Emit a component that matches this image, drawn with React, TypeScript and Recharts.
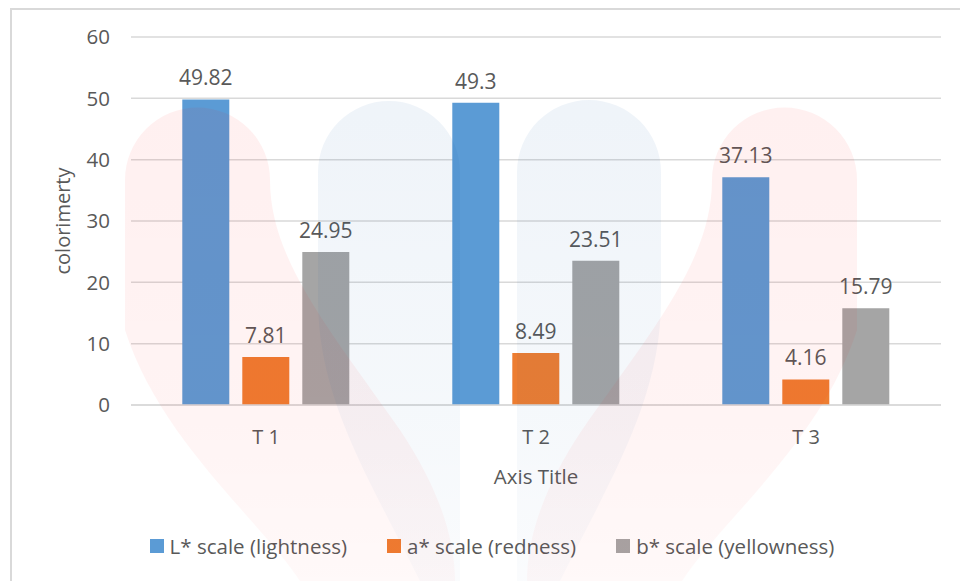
import React from "react"
import {
  BarChart,
  Bar,
  XAxis,
  YAxis,
  CartesianGrid,
  Legend,
  LabelList,
} from "recharts"

const categories = ["T 1", "T 2", "T 3"]
const lightness = [49.82, 49.3, 37.13]
const redness = [7.81, 8.49, 4.16]
const yellowness = [24.95, 23.51, 15.79]
const yTicks = [0, 10, 20, 30, 40, 50, 60]

const series = [
  { key: "L", name: "L* scale (lightness)", color: "#5B9BD5" },
  { key: "a", name: "a* scale (redness)", color: "#ED7D31" },
  { key: "b", name: "b* scale (yellowness)", color: "#A5A5A5" },
]

const data = categories.map((name, i) => ({
  name,
  L: lightness[i],
  a: redness[i],
  b: yellowness[i],
}))

const FONT = "'Open Sans', 'Noto Sans', sans-serif"
const TEXT = "#595959"

const YTitle = (props: any) => {
  const vb = props.viewBox
  const cx = vb.x - 9
  const cy = vb.y + vb.height / 2
  return (
    <text
      x={cx}
      y={cy}
      transform={`rotate(-90 ${cx} ${cy})`}
      textAnchor="middle"
      dominantBaseline="central"
      fill={TEXT}
      fontSize={20}
      fontFamily={FONT}
    >
      colorimerty
    </text>
  )
}

const XTitle = (props: any) => {
  const vb = props.viewBox
  return (
    <text
      x={vb.x + vb.width / 2}
      y={vb.y + 71}
      textAnchor="middle"
      dominantBaseline="central"
      fill={TEXT}
      fontSize={20.5}
      fontFamily={FONT}
    >
      Axis Title
    </text>
  )
}

const LegendBox = () => (
  <div
    style={{
      height: 24,
      display: "flex",
      justifyContent: "center",
      alignItems: "center",
      gap: 40,
      paddingRight: 28,
      fontFamily: FONT,
      fontSize: 20.5,
      color: TEXT,
    }}
  >
    {series.map((s) => (
      <div key={s.key} style={{ display: "flex", alignItems: "center" }}>
        <span
          style={{
            width: 14,
            height: 14,
            background: s.color,
            display: "inline-block",
            marginRight: 6,
          }}
        />
        <span>{s.name}</span>
      </div>
    ))}
  </div>
)

const pinkShape =
  "M 125 180 A 72 72 0 0 1 270 180 C 270 260 330 330 400 430 C 440 490 455 540 455 581 L 300 581 C 260 520 160 440 125 330 Z"

// faint watermark that sits over the picture
const Watermark = () => (
  <svg
    width={960}
    height={581}
    style={{ position: "absolute", left: 0, top: 0, pointerEvents: "none" }}
  >
    <defs>
      <linearGradient id="pk" x1="0" y1="0" x2="0" y2="581" gradientUnits="userSpaceOnUse">
        <stop offset="0.15" stopColor="rgb(255,0,0)" stopOpacity={0.06} />
        <stop offset="0.7" stopColor="rgb(255,0,0)" stopOpacity={0.045} />
        <stop offset="1" stopColor="rgb(255,0,0)" stopOpacity={0.025} />
      </linearGradient>
      <linearGradient id="bl" x1="0" y1="0" x2="0" y2="581" gradientUnits="userSpaceOnUse">
        <stop offset="0.15" stopColor="rgb(0,80,160)" stopOpacity={0.065} />
        <stop offset="0.7" stopColor="rgb(0,80,160)" stopOpacity={0.04} />
        <stop offset="1" stopColor="rgb(0,80,160)" stopOpacity={0.02} />
      </linearGradient>
    </defs>
    <g fill="url(#pk)">
      <path d={pinkShape} />
      <g transform="translate(982,0) scale(-1,1)">
        <path d={pinkShape} />
      </g>
    </g>
    <g fill="url(#bl)">
      <path d="M 318 172 A 71 71 0 0 1 460 172 L 460 581 L 420 581 C 370 480 318 400 318 300 Z" />
      <path d="M 517 172 A 72 72 0 0 1 661 172 L 661 300 C 661 400 610 480 560 581 L 517 581 Z" />
    </g>
  </svg>
)

export default function App() {
  return (
    <div
      style={{
        position: "fixed",
        left: 0,
        top: 0,
        width: 960,
        height: 581,
        overflow: "hidden",
        background: "#fff",
      }}
    >
      <div
        style={{
          position: "absolute",
          left: 10,
          top: 8,
          width: 980,
          height: 600,
          border: "2px solid #d9d9d9",
        }}
      />
      <div style={{ position: "absolute", left: 0, top: 0 }}>
        <BarChart
          width={960}
          height={581}
          data={data}
          margin={{ top: 37, right: 19, left: 71, bottom: 23 }}
          barCategoryGap="19%"
          barGap={13}
        >
          <CartesianGrid vertical={false} stroke="#d9d9d9" strokeWidth={1.5} />
          <XAxis
            dataKey="name"
            height={129}
            tickLine={false}
            tickSize={0}
            tickMargin={25}
            axisLine={{ stroke: "#d9d9d9", strokeWidth: 1.5 }}
            tick={{ fill: TEXT, fontSize: 20, fontFamily: FONT }}
            label={<XTitle />}
          />
          <YAxis
            width={60}
            domain={[0, 60]}
            ticks={yTicks}
            axisLine={false}
            tickLine={false}
            tickSize={0}
            tickMargin={21}
            tick={{ fill: TEXT, fontSize: 20.5, fontFamily: FONT }}
            label={<YTitle />}
          />
          <Legend verticalAlign="bottom" content={<LegendBox />} />
          {series.map((s) => (
            <Bar
              key={s.key}
              dataKey={s.key}
              name={s.name}
              fill={s.color}
              isAnimationActive={false}
            >
              <LabelList
                dataKey={s.key}
                position="top"
                offset={14}
                fill={TEXT}
                fontSize={21}
                fontFamily={FONT}
              />
            </Bar>
          ))}
        </BarChart>
      </div>
      <Watermark />
    </div>
  )
}
